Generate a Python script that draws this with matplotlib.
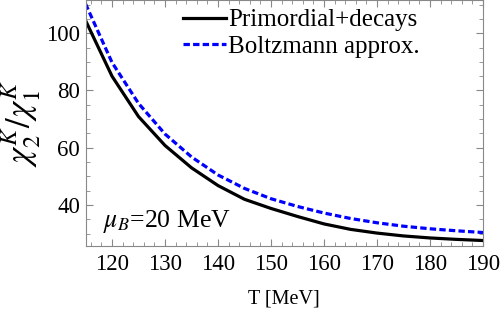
import matplotlib
matplotlib.use("Agg")
import matplotlib.pyplot as plt
from matplotlib.ticker import MultipleLocator

plt.rcParams['font.family'] = ['Liberation Serif', 'DejaVu Serif']
plt.rcParams['mathtext.fontset'] = 'stix'

T = [115, 120, 125, 130, 135, 140, 145, 150, 155, 160, 165, 170, 175, 180, 185, 190]
primordial_decays = [104.5, 85.0, 70.9, 60.8, 53.0, 46.8, 42.0, 38.8, 36.0, 33.4, 31.5, 30.2, 29.2, 28.5, 28.0, 27.6]
boltzmann = [110.3, 89.8, 75.5, 64.8, 56.8, 50.5, 45.8, 42.2, 39.5, 37.2, 35.3, 33.8, 32.6, 31.7, 31.0, 30.4]
labels = ['Primordial+decays', 'Boltzmann approx.']

fig = plt.figure(figsize=(5.0, 3.09), dpi=100)
ax = fig.add_axes([0.171, 0.204, 0.795, 0.795])

ax.plot(T, primordial_decays, color='black', lw=2.3, label=labels[0])
ax.plot(T, boltzmann, color='#0000ff', lw=2.3, linestyle=(0, (2.0, 1.0)), label=labels[1])

ax.set_xlim(115, 190)
ax.set_ylim(25.7, 111.5)
ax.xaxis.set_major_locator(MultipleLocator(10))
ax.xaxis.set_minor_locator(MultipleLocator(2))
ax.yaxis.set_major_locator(MultipleLocator(20))
ax.yaxis.set_minor_locator(MultipleLocator(5))
ax.tick_params(which='both', direction='in', top=True, right=True, color='#888888', labelsize=16.5)
ax.tick_params(axis='x', pad=6)
ax.tick_params(axis='y', pad=4)
ax.tick_params(which='major', length=5, width=0.8)
ax.tick_params(which='minor', length=2.8, width=0.6)
for s in ax.spines.values():
    s.set_color('#888888')
    s.set_linewidth(0.8)

ax.set_xlabel('T [MeV]', fontsize=14.5, labelpad=10)
ax.set_ylabel(r'$\chi_2^K/\chi_1^K$', fontsize=25, labelpad=2)

ax.text(0.044, 0.078, r'$\mu_B$=20 MeV', transform=ax.transAxes, fontsize=18.5, va='baseline', ha='left')

leg = ax.legend(loc='upper left', frameon=False, fontsize=18, handlelength=1.72, handletextpad=0.1,
                labelspacing=0.15, borderaxespad=0.0, borderpad=0.0, bbox_to_anchor=(0.245, 0.965))

fig.savefig('out.png', dpi=100)
